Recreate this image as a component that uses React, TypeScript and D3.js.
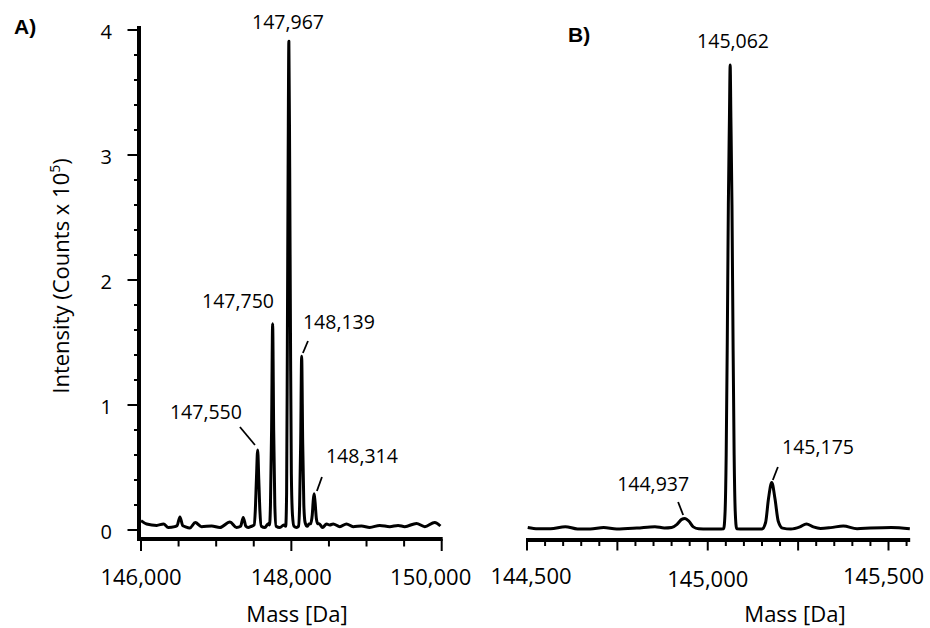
import React from "react";
import * as d3 from "d3";

// ---------- Panel A data (mass in Da, intensity in counts x 10^5) ----------
const massA = [
  146000, 146075, 146210, 146300, 146363, 146450, 146480, 146518, 146555, 146585,
  146650, 146722, 146806, 146940, 147050, 147183, 147271, 147325, 147360, 147395,
  147426, 147470, 147505, 147520, 147535, 147552, 147567, 147582, 147600, 147648,
  147692, 147710, 147722, 147737, 147751, 147765, 147780, 147797, 147847, 147900,
  147925, 147937, 147947, 147957, 147967, 147978, 147989, 148000, 148015, 148035,
  148069, 148095, 148110, 148124, 148137, 148151, 148166, 148183, 148210, 148237,
  148255, 148278, 148292, 148303, 148316, 148333, 148352, 148370, 148415, 148468,
  148510, 148556, 148645, 148733, 148822, 148933, 149043, 149176, 149309, 149420,
  149509, 149664, 149775, 149907, 149983,
];
const intensityA = [
  0.075, 0.048, 0.037, 0.048, 0.02, 0.027, 0.035, 0.105, 0.035, 0.027,
  0.016, 0.06, 0.027, 0.032, 0.02, 0.064, 0.02, 0.03, 0.1, 0.03,
  0.02, 0.03, 0.04, 0.15, 0.4, 0.64, 0.4, 0.15, 0.03, 0.02,
  0.05, 0.04, 0.2, 0.8, 1.65, 0.8, 0.2, 0.03, 0.02, 0.04,
  0.03, 0.3, 1.5, 2.9, 3.91, 2.9, 1.5, 0.45, 0.12, 0.03,
  0.02, 0.03, 0.2, 0.7, 1.39, 0.7, 0.2, 0.06, 0.03, 0.048,
  0.05, 0.12, 0.24, 0.29, 0.22, 0.09, 0.05, 0.05, 0.02, 0.048,
  0.04, 0.048, 0.027, 0.048, 0.027, 0.032, 0.021, 0.037, 0.027, 0.037,
  0.027, 0.053, 0.027, 0.06, 0.032,
];

// ---------- Panel B data ----------
const massB = [
  144502, 144530, 144565, 144606, 144640, 144675, 144712, 144748, 144804, 144854,
  144880, 144900, 144915, 144928, 144937, 144948, 144960, 144975, 145000, 145030,
  145044, 145048, 145051, 145054, 145057, 145060, 145062, 145064, 145067, 145070,
  145073, 145076, 145080, 145100, 145150, 145160, 145168, 145177, 145186, 145195,
  145207, 145230, 145255, 145273, 145292, 145312, 145340, 145375, 145413, 145450,
  145508, 145559,
];
const intensityB = [
  0.02, 0.01, 0.01, 0.027, 0.008, 0.008, 0.02, 0.008, 0.016, 0.027,
  0.016, 0.02, 0.045, 0.085, 0.093, 0.07, 0.025, 0.01, 0.008, 0.008,
  0.01, 0.15, 0.6, 1.5, 2.6, 3.3, 3.72, 3.3, 2.6, 1.5,
  0.6, 0.15, 0.01, 0.008, 0.008, 0.06, 0.25, 0.38, 0.25, 0.07,
  0.015, 0.008, 0.025, 0.048, 0.025, 0.013, 0.019, 0.032, 0.01, 0.016,
  0.021, 0.01,
];

// ---------- Axes ----------
const yTickValues = [0, 1, 2, 3, 4];
const yTickLabels = ["0", "1", "2", "3", "4"];
const xTickValuesA = [146000, 148000, 150000];
const xTickLabelsA = ["146,000", "148,000", "150,000"];
const xTickValuesB = [144500, 145000, 145500];
const xTickLabelsB = ["144,500", "145,000", "145,500"];

// ---------- Peak annotations ----------
const peakLabelsA = ["147,967", "147,750", "148,139", "147,550", "148,314"];
const peakLabelMassA = [147955, 147290, 148633, 146864, 148939];
const peakLabelIntA = [4.008, 1.776, 1.608, 0.888, 0.536];
const leaderA: (number[] | null)[] = [
  null,
  null,
  [148221, 1.512, 148154, 1.416],
  [147316, 0.824, 147516, 0.68],
  [148407, 0.424, 148340, 0.312],
];
const peakLabelsB = ["145,062", "145,175", "144,937"];
const peakLabelMassB = [145070, 145305, 144849];
const peakLabelIntB = [3.856, 0.608, 0.312];
const leaderB: (number[] | null)[] = [
  null,
  [145194, 0.504, 145180, 0.4],
  [144918, 0.224, 144932, 0.12],
];

const FONT = "'Open Sans', 'DejaVu Sans', sans-serif";

export default function App() {
  const xA = d3.scaleLinear().domain([146000, 150000]).range([141, 441.7]);
  const xB = d3.scaleLinear().domain([144500, 145500]).range([527, 888.5]);
  const y = d3.scaleLinear().domain([0, 4]).range([530, 30]);

  const ptsA = massA.map((m, i) => [m, intensityA[i]] as [number, number]);
  const ptsB = massB.map((m, i) => [m, intensityB[i]] as [number, number]);

  const lineA = d3
    .line<[number, number]>()
    .x((d) => xA(d[0]))
    .y((d) => y(d[1]))
    .curve(d3.curveMonotoneX);
  const lineB = d3
    .line<[number, number]>()
    .x((d) => xB(d[0]))
    .y((d) => y(d[1]))
    .curve(d3.curveMonotoneX);

  const yMinor = d3.range(0, 4.0001, 0.2);
  const xMinorA = d3.range(146000, 150001, 500);
  const xMinorB = d3.range(144500, 145551, 50);

  const axisYLine = 539;
  const bEnd = xB(145560);

  return (
    <svg
      width={930}
      height={628}
      style={{ position: "absolute", left: 0, top: 0, background: "#fff" }}
      fontFamily={FONT}
    >
      <rect width={930} height={628} fill="#fff" />

      {/* Panel labels */}
      <text x={14} y={34} fontFamily="'Liberation Sans', Arial, sans-serif" fontWeight="bold" fontSize={21}>
        A)
      </text>
      <text x={568} y={42} fontFamily="'Liberation Sans', Arial, sans-serif" fontWeight="bold" fontSize={21}>
        B)
      </text>

      {/* ===== Panel A ===== */}
      {yMinor.map((v, i) => {
        const major = Math.abs(v - Math.round(v)) < 1e-6;
        return (
          <line
            key={"ym" + i}
            x1={major ? 127.5 : 134}
            x2={139}
            y1={y(v)}
            y2={y(v)}
            stroke="#000"
            strokeWidth={2}
          />
        );
      })}
      {yTickValues.map((v, i) => (
        <text key={"yl" + i} x={112} y={y(v) + 9} textAnchor="end" fontSize={20}>
          {yTickLabels[i]}
        </text>
      ))}
      <line x1={139} x2={139} y1={26} y2={541} stroke="#000" strokeWidth={4} />
      {xMinorA.map((v, i) => {
        const major = v % 2000 === 0;
        return (
          <line
            key={"xa" + i}
            x1={xA(v)}
            x2={xA(v)}
            y1={axisYLine}
            y2={axisYLine + (major ? 12 : 7.5)}
            stroke="#000"
            strokeWidth={2}
          />
        );
      })}
      <line x1={137} x2={xA(150000) + 1} y1={axisYLine} y2={axisYLine} stroke="#000" strokeWidth={4} />
      {xTickValuesA.map((v, i) => (
        <text
          key={"xal" + i}
          x={xA(v) + (i === 2 ? -11 : 0)}
          y={585}
          textAnchor="middle"
          fontSize={22}
        >
          {xTickLabelsA[i]}
        </text>
      ))}
      <text x={297} y={622} textAnchor="middle" fontSize={22}>
        Mass [Da]
      </text>
      <text transform="translate(69,276) rotate(-90)" textAnchor="middle" fontSize={22}>
        Intensity (Counts x 10
        <tspan fontSize={14} dy={-9}>
          5
        </tspan>
        <tspan dy={9}>)</tspan>
      </text>

      <path
        d={lineA(ptsA) || ""}
        fill="none"
        stroke="#000"
        strokeWidth={3}
        strokeLinejoin="round"
      />
      {peakLabelsA.map((t, i) => (
        <text
          key={"pa" + i}
          x={xA(peakLabelMassA[i])}
          y={y(peakLabelIntA[i])}
          textAnchor="middle"
          fontSize={19.5}
        >
          {t}
        </text>
      ))}
      {leaderA.map((l, i) =>
        l ? (
          <line
            key={"la" + i}
            x1={xA(l[0])}
            y1={y(l[1])}
            x2={xA(l[2])}
            y2={y(l[3])}
            stroke="#000"
            strokeWidth={1.8}
          />
        ) : null
      )}

      {/* ===== Panel B ===== */}
      {xMinorB.map((v, i) => {
        const major = v % 250 === 0;
        return (
          <line
            key={"xb" + i}
            x1={xB(v)}
            x2={xB(v)}
            y1={axisYLine + 1}
            y2={axisYLine + 1 + (major ? 10.5 : 6)}
            stroke="#000"
            strokeWidth={2}
          />
        );
      })}
      <line x1={xB(144500) - 1} x2={bEnd} y1={axisYLine + 1} y2={axisYLine + 1} stroke="#000" strokeWidth={4} />
      {xTickValuesB.map((v, i) => (
        <text key={"xbl" + i} x={xB(v) + (i === 0 ? 4 : i === 2 ? -5 : 0)} y={i === 1 ? 587 : 584} textAnchor="middle" fontSize={22}>
          {xTickLabelsB[i]}
        </text>
      ))}
      <text x={795} y={622} textAnchor="middle" fontSize={22}>
        Mass [Da]
      </text>

      <path
        d={lineB(ptsB) || ""}
        fill="none"
        stroke="#000"
        strokeWidth={3}
        strokeLinejoin="round"
      />
      {peakLabelsB.map((t, i) => (
        <text
          key={"pb" + i}
          x={xB(peakLabelMassB[i])}
          y={y(peakLabelIntB[i])}
          textAnchor="middle"
          fontSize={19.5}
        >
          {t}
        </text>
      ))}
      {leaderB.map((l, i) =>
        l ? (
          <line
            key={"lb" + i}
            x1={xB(l[0])}
            y1={y(l[1])}
            x2={xB(l[2])}
            y2={y(l[3])}
            stroke="#000"
            strokeWidth={1.8}
          />
        ) : null
      )}
    </svg>
  );
}
